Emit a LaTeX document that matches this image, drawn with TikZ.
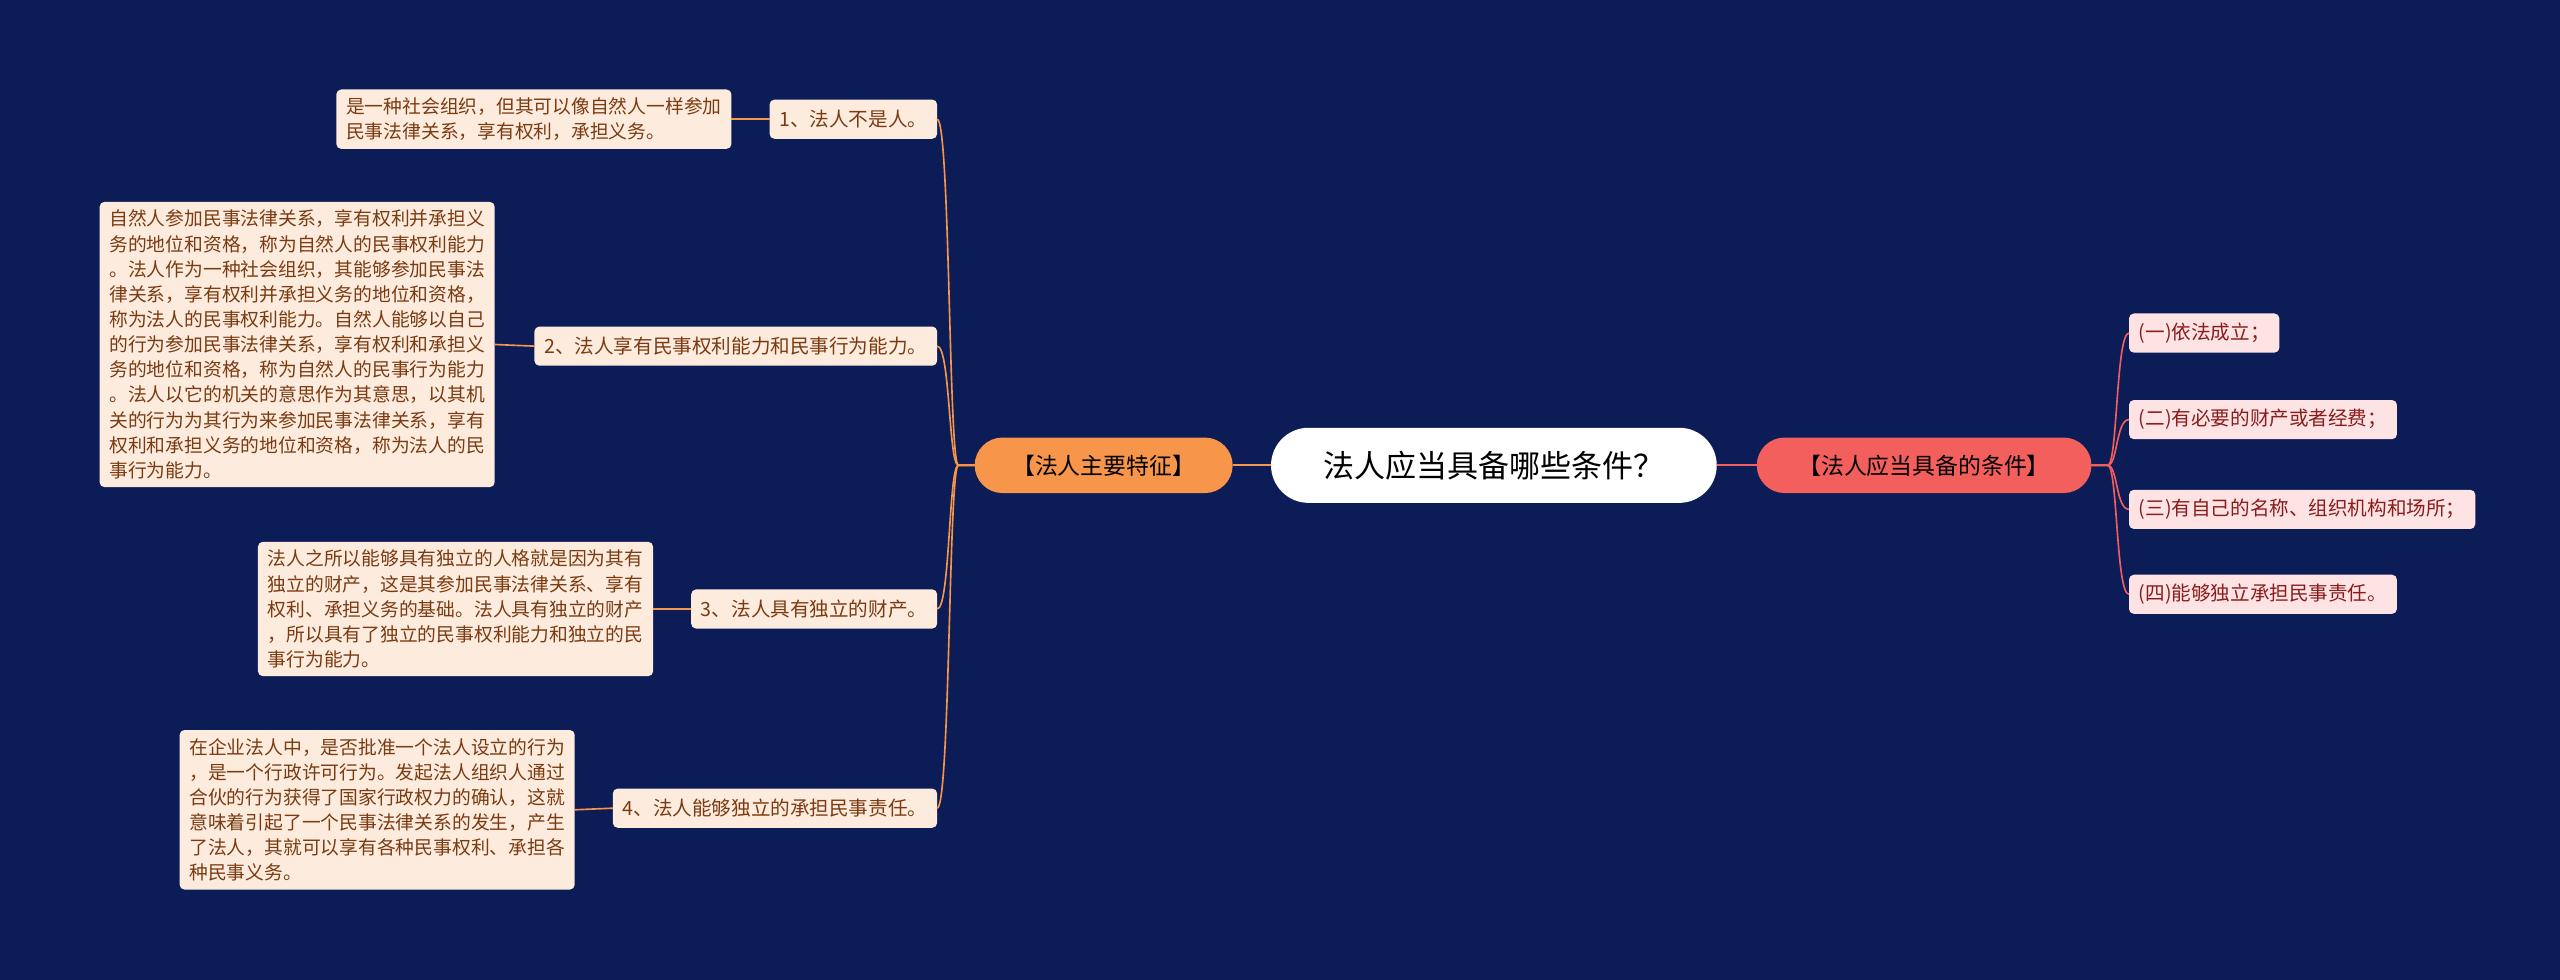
\documentclass[tikz,border=0pt]{standalone}
\usepackage{fontspec}
\setmainfont{Noto Sans CJK SC}
\usetikzlibrary{positioning}
\definecolor{bgnavy}{HTML}{0B1C56}
\definecolor{orangemain}{HTML}{F7954A}
\definecolor{redmain}{HTML}{F25F5C}
\definecolor{leafbg}{HTML}{FDEBDD}
\definecolor{pinkbg}{HTML}{FDE3E3}
\definecolor{leaftext}{HTML}{7A3B12}
\definecolor{redtext}{HTML}{8A1C1C}
\begin{document}
\begin{tikzpicture}[x=1pt,y=-1pt]
\tikzstyle{every node}+=[inner sep=0pt, outer sep=0pt]
\tikzstyle{leftsub}=[fill=leafbg, rounded corners=3pt, text=leaftext, font=\fontsize{12}{15}\selectfont, inner xsep=6pt, minimum height=24pt]
\tikzstyle{leafbox}=[fill=leafbg, rounded corners=3pt, text=leaftext, font=\fontsize{11.5}{15.4}\selectfont, inner xsep=6pt, inner ysep=5pt, align=left]
\tikzstyle{rightsub}=[fill=pinkbg, rounded corners=3pt, text=redtext, font=\fontsize{12}{15}\selectfont, inner xsep=6pt, minimum height=24pt]
\tikzstyle{olink}=[draw=orangemain, line width=1pt]
\tikzstyle{rlink}=[draw=redmain, line width=1pt]
\fill [bgnavy] (0,0) rectangle (1568,600);
\useasboundingbox (0,0) rectangle (1568,600);
% centre and main branches
\node [fill=white, rounded corners=23pt, minimum width=273pt, minimum height=46pt, font=\fontsize{19}{22}\selectfont] (root) at (915,285) {法人应当具备哪些条件？};
\node [fill=orangemain, rounded corners=17pt, minimum width=158pt, minimum height=34pt, font=\fontsize{14}{16}\selectfont] (feat) at (676,285) {【法人主要特征】};
\node [fill=redmain, rounded corners=17pt, minimum width=205pt, minimum height=34pt, font=\fontsize{14}{16}\selectfont] (cond) at (1178.5,285) {【法人应当具备的条件】};
\draw [olink] (root.west) -- (feat.east);
\draw [rlink] (root.east) -- (cond.west);
% right side
\node [rightsub, anchor=west] (c1) at (1304,204) {(一)依法成立；};
\node [rightsub, anchor=west] (c2) at (1304,257) {(二)有必要的财产或者经费；};
\node [rightsub, anchor=west] (c3) at (1304,312) {(三)有自己的名称、组织机构和场所；};
\node [rightsub, anchor=west] (c4) at (1304,364) {(四)能够独立承担民事责任。};
\foreach \c in {c1,c2,c3,c4}
  \draw [rlink] (cond.east) -- ++(10,0) .. controls +(6,0) and +(-8,0) .. (\c.west);
% left side
\node [leftsub, anchor=east] (f1) at (574,73) {1、法人不是人。};
\node [leftsub, anchor=east] (f2) at (574,212) {2、法人享有民事权利能力和民事行为能力。};
\node [leftsub, anchor=east] (f3) at (574,373) {3、法人具有独立的财产。};
\node [leftsub, anchor=east] (f4) at (574,495) {4、法人能够独立的承担民事责任。};
\foreach \f in {f1,f2,f3,f4}
  \draw [olink] (feat.west) -- ++(-10,0) .. controls +(-6,0) and +(8,0) .. (\f.east);
\node [leafbox, anchor=east] (d1) at (448,73) {是一种社会组织，但其可以像自然人一样参加\\民事法律关系，享有权利，承担义务。};
\node [leafbox, anchor=east] (d2) at (303,211) {自然人参加民事法律关系，享有权利并承担义\\务的地位和资格，称为自然人的民事权利能力\\。法人作为一种社会组织，其能够参加民事法\\律关系，享有权利并承担义务的地位和资格，\\称为法人的民事权利能力。自然人能够以自己\\的行为参加民事法律关系，享有权利和承担义\\务的地位和资格，称为自然人的民事行为能力\\。法人以它的机关的意思作为其意思，以其机\\关的行为为其行为来参加民事法律关系，享有\\权利和承担义务的地位和资格，称为法人的民\\事行为能力。};
\node [leafbox, anchor=east] (d3) at (400,373) {法人之所以能够具有独立的人格就是因为其有\\独立的财产，这是其参加民事法律关系、享有\\权利、承担义务的基础。法人具有独立的财产\\，所以具有了独立的民事权利能力和独立的民\\事行为能力。};
\node [leafbox, anchor=east] (d4) at (352,496) {在企业法人中，是否批准一个法人设立的行为\\，是一个行政许可行为。发起法人组织人通过\\合伙的行为获得了国家行政权力的确认，这就\\意味着引起了一个民事法律关系的发生，产生\\了法人，其就可以享有各种民事权利、承担各\\种民事义务。};
\draw [olink] (f1.west) -- (d1.east);
\draw [olink] (f2.west) -- (d2.east);
\draw [olink] (f3.west) -- (d3.east);
\draw [olink] (f4.west) -- (d4.east);
\end{tikzpicture}
\end{document}
